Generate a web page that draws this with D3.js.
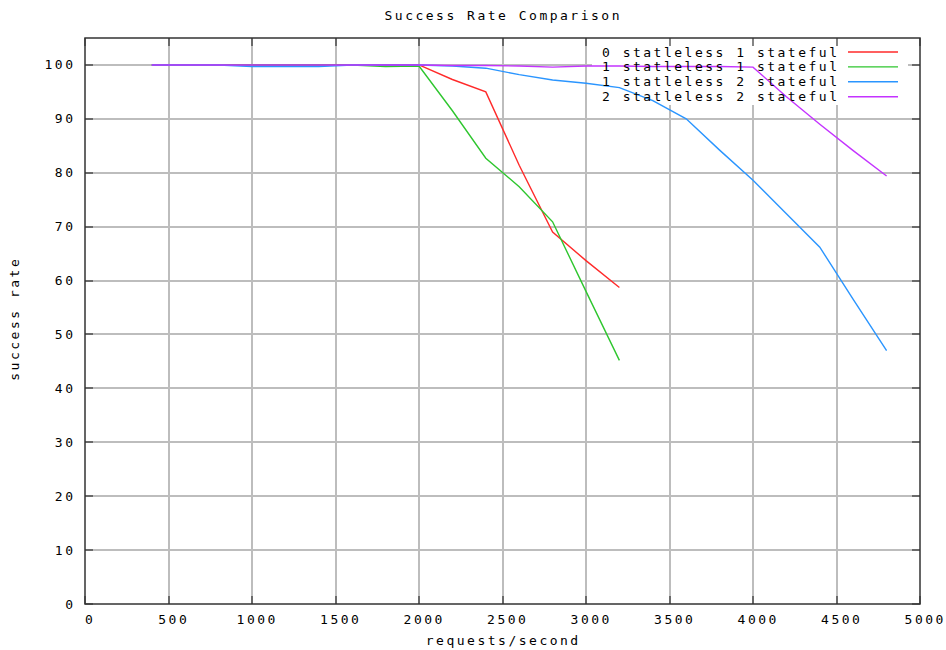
<!DOCTYPE html>
<html>
<head>
<meta charset="utf-8">
<script src="https://cdn.jsdelivr.net/npm/d3@7"></script>
<style>
  body { margin: 0; background: #fff; }
  text { font-family: "DejaVu Sans Mono", "Liberation Mono", monospace; font-size: 13px; letter-spacing: 2.5px; fill: #000; }
</style>
</head>
<body>
<div id="chart"></div>
<script>
// data
const xTicks = [0, 500, 1000, 1500, 2000, 2500, 3000, 3500, 4000, 4500, 5000];
const yTicks = [0, 10, 20, 30, 40, 50, 60, 70, 80, 90, 100];

const redX = [400, 600, 800, 1000, 1200, 1400, 1600, 1800, 2000, 2200, 2400, 2600, 2800, 3000, 3200];
const redY = [100, 100, 100, 100, 100, 100, 100, 100, 100, 97.3, 95, 81.4, 69, 63.7, 58.7];

const greenX = [400, 600, 800, 1000, 1200, 1400, 1600, 1800, 2000, 2200, 2400, 2600, 2800, 3000, 3200];
const greenY = [100, 100, 100, 100, 100, 100, 100, 99.7, 99.8, 91.5, 82.7, 77.4, 70.9, 58, 45.2];

const blueX = [400, 600, 800, 1000, 1200, 1400, 1600, 1800, 2000, 2200, 2400, 2600, 2800, 3000, 3200, 3400, 3600, 3800, 4000, 4200, 4400, 4600, 4800];
const blueY = [100, 100, 100, 99.7, 99.7, 99.7, 100, 100, 100, 99.8, 99.4, 98.2, 97.2, 96.6, 95.8, 93.4, 90, 84.2, 78.6, 72.4, 66.2, 56.5, 47];

const purpleX = [400, 600, 800, 1000, 1200, 1400, 1600, 1800, 2000, 2200, 2400, 2600, 2800, 3000, 3200, 3400, 3600, 3800, 4000, 4200, 4400, 4600, 4800];
const purpleY = [100, 100, 100, 100, 100, 100, 100, 100, 100, 99.9, 99.9, 99.8, 99.6, 99.8, 99.8, 99.7, 99.7, 99.7, 99.6, 94.1, 89, 84.1, 79.4];

const seriesNames = ['0 statleless 1 stateful', '1 statleless 1 stateful', '1 statleless 2 stateful', '2 statleless 2 stateful'];
const seriesColors = ['#ff2a2a', '#2ec62e', '#2a95ff', '#c433ff'];

const dim = { width: 946, height: 650, left: 85, right: 920, top: 38, bottom: 604 };
const ls = 2.5; // letter spacing, compensated for anchors

const x = d3.scaleLinear().domain([0, 5000]).range([dim.left, dim.right]);
const y = d3.scaleLinear().domain([0, 105]).range([dim.bottom, dim.top]);

const svg = d3.select('#chart').append('svg')
    .attr('width', dim.width)
    .attr('height', dim.height);

// grid is hidden behind the key, like gnuplot does
const key = { x0: 592, x1: 908, y0: dim.top, y1: 105 };
const mask = svg.append('defs').append('mask').attr('id', 'keymask');
mask.append('rect').attr('width', dim.width).attr('height', dim.height).attr('fill', '#fff');
mask.append('rect')
    .attr('x', key.x0).attr('y', key.y0)
    .attr('width', key.x1 - key.x0).attr('height', key.y1 - key.y0)
    .attr('fill', '#000');

const grid = svg.append('g').attr('mask', 'url(#keymask)')
    .attr('stroke', '#bdbdbd').attr('stroke-width', 2);

grid.selectAll('.vgrid')
    .data(xTicks.slice(1, -1))
    .enter().append('line')
        .attr('x1', d => Math.round(x(d))).attr('x2', d => Math.round(x(d)))
        .attr('y1', dim.top).attr('y2', dim.bottom);

grid.selectAll('.hgrid')
    .data(yTicks.slice(1))
    .enter().append('line')
        .attr('y1', d => Math.round(y(d))).attr('y2', d => Math.round(y(d)))
        .attr('x1', dim.left).attr('x2', dim.right);

// ticks on all four sides, pointing in
const tickLen = 8;
const ticks = svg.append('g').attr('stroke', '#333').attr('stroke-width', 1.2);
xTicks.forEach(t => {
    const xx = Math.round(x(t));
    ticks.append('line').attr('x1', xx).attr('x2', xx).attr('y1', dim.bottom).attr('y2', dim.bottom - tickLen);
    ticks.append('line').attr('x1', xx).attr('x2', xx).attr('y1', dim.top).attr('y2', dim.top + tickLen);
});
yTicks.forEach(t => {
    const yy = Math.round(y(t));
    ticks.append('line').attr('y1', yy).attr('y2', yy).attr('x1', dim.left).attr('x2', dim.left + tickLen);
    ticks.append('line').attr('y1', yy).attr('y2', yy).attr('x1', dim.right).attr('x2', dim.right - tickLen);
});

// series
const seriesData = [
    redX.map((v, i) => [v, redY[i]]),
    greenX.map((v, i) => [v, greenY[i]]),
    blueX.map((v, i) => [v, blueY[i]]),
    purpleX.map((v, i) => [v, purpleY[i]])
];

const line = d3.line().x(d => x(d[0])).y(d => y(d[1]));

seriesData.forEach((s, i) => {
    svg.append('path')
        .datum(s)
        .attr('fill', 'none')
        .attr('stroke', seriesColors[i])
        .attr('stroke-width', 1.4)
        .attr('d', line);
});

// border
svg.append('rect')
    .attr('x', dim.left).attr('y', dim.top)
    .attr('width', dim.right - dim.left).attr('height', dim.bottom - dim.top)
    .attr('fill', 'none')
    .attr('stroke', '#333')
    .attr('stroke-width', 1.5);

// tick labels
svg.selectAll('.xlab')
    .data(xTicks)
    .enter().append('text')
        .attr('x', d => x(d) + 4 + ls / 2)
        .attr('y', 624)
        .attr('text-anchor', 'middle')
        .text(d => d);

svg.selectAll('.ylab')
    .data(yTicks)
    .enter().append('text')
        .attr('x', dim.left - 12 + ls)
        .attr('y', d => y(d) + 4.5)
        .attr('text-anchor', 'end')
        .text(d => d);

// title and axis labels
svg.append('text')
    .attr('x', 502 + ls / 2).attr('y', 20)
    .attr('text-anchor', 'middle')
    .text('Success Rate Comparison');

svg.append('text')
    .attr('x', 502 + ls / 2).attr('y', 645)
    .attr('text-anchor', 'middle')
    .text('requests/second');

svg.append('text')
    .attr('transform', 'translate(19, 320) rotate(-90)')
    .attr('text-anchor', 'middle')
    .attr('dx', ls / 2)
    .text('success rate');

// legend
const legend = svg.append('g').attr('class', 'chart-legend');
seriesNames.forEach((name, i) => {
    const ly = 52 + i * 14.9;
    legend.append('text')
        .attr('x', 837 + ls).attr('y', ly + 4.5)
        .attr('text-anchor', 'end')
        .text(name);
    legend.append('line')
        .attr('x1', 848).attr('x2', 898)
        .attr('y1', ly).attr('y2', ly)
        .attr('stroke', seriesColors[i])
        .attr('stroke-width', 1.4);
});
</script>
</body>
</html>
